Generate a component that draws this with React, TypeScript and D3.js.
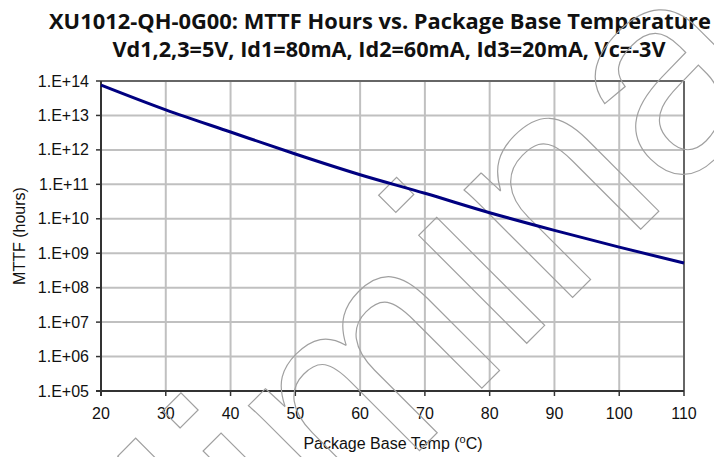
import * as d3 from 'd3';

// temperatures (°C) and MTTF (hours)
const temps = [20, 30, 40, 50, 60, 70, 80, 90, 100, 110];
const mttf = [7.6e13, 1.45e13, 3.3e12, 7.6e11, 1.9e11, 5.5e10, 1.5e10, 4.6e9, 1.5e9, 5.2e8];
const xTicks = [20, 30, 40, 50, 60, 70, 80, 90, 100, 110];
const yTicks = [1e5, 1e6, 1e7, 1e8, 1e9, 1e10, 1e11, 1e12, 1e13, 1e14];
const titleLines = [
  'XU1012-QH-0G00: MTTF Hours vs. Package Base Temperature',
  'Vd1,2,3=5V, Id1=80mA, Id2=60mA, Id3=20mA, Vc=-3V',
];
const watermark = 'Preliminary';

const W = 714, H = 457;
const m = { left: 101, right: 684, top: 81, bottom: 391 };
const fmtExp = (v: number) => {
  const e = Math.round(Math.log10(v));
  return `1.E+${String(e).padStart(2, '0')}`;
};

export default function App() {
  const x = d3.scaleLinear().domain([20, 110]).range([m.left, m.right]);
  const y = d3.scaleLog().domain([1e5, 1e14]).range([m.bottom, m.top]);
  const line = d3.line<number>()
    .x((_, i) => x(temps[i]))
    .y((d) => y(d))
    .curve(d3.curveMonotoneX);
  const font = 'Liberation Sans, Arial, sans-serif';

  return (
    <svg width={W} height={H} style={{ position: 'absolute', left: 0, top: 0, background: '#fff' }} fontFamily={font}>
      <rect width={W} height={H} fill="#fff" />
      {titleLines.map((t, i) => (
        <text key={t} x={i === 0 ? 380 : 389} y={i === 0 ? 29 : 57} textAnchor="middle" fontFamily="Open Sans, sans-serif"
          fontWeight="bold" fontSize={21} fill="#111" textLength={i === 0 ? 662 : 553} lengthAdjust="spacingAndGlyphs">{t}</text>
      ))}

      {/* grid */}
      {xTicks.slice(1, -1).map((t) => (
        <line key={'gx' + t} x1={x(t)} x2={x(t)} y1={m.top} y2={m.bottom} stroke="#c0c0c0" strokeWidth={2} />
      ))}
      {yTicks.slice(1, -1).map((t) => (
        <line key={'gy' + t} x1={m.left} x2={m.right} y1={y(t)} y2={y(t)} stroke="#c0c0c0" strokeWidth={2} />
      ))}
      {/* frame */}
      <line x1={m.left} x2={m.right} y1={m.top} y2={m.top} stroke="#666" strokeWidth={2} />
      <line x1={m.right} x2={m.right} y1={m.top} y2={m.bottom} stroke="#666" strokeWidth={2} />
      <line x1={m.left} x2={m.left} y1={m.top} y2={m.bottom + 5} stroke="#333" strokeWidth={2} />
      <line x1={m.left - 5} x2={m.right} y1={m.bottom} y2={m.bottom} stroke="#333" strokeWidth={2} />

      {yTicks.map((t) => (
        <g key={'ty' + t}>
          <line x1={m.left - 5} x2={m.left} y1={y(t)} y2={y(t)} stroke="#333" strokeWidth={1.5} />
          <text x={89} y={y(t)} dy="0.35em" textAnchor="end" fontSize={16} fill="#111">{fmtExp(t)}</text>
        </g>
      ))}
      {xTicks.map((t) => (
        <g key={'tx' + t}>
          <line x1={x(t)} x2={x(t)} y1={m.bottom} y2={m.bottom + 5} stroke="#333" strokeWidth={1.5} />
          <text x={x(t)} y={419} textAnchor="middle" fontSize={16} fill="#111">{t}</text>
        </g>
      ))}

      <text x={393} y={449} textAnchor="middle" fontSize={16} fill="#111">
        Package Base Temp (<tspan dy={-6} fontSize={11}>o</tspan><tspan dy={6}>C)</tspan>
      </text>
      <text transform={`translate(25,${(m.top + m.bottom) / 2}) rotate(-90)`} textAnchor="middle" fontSize={16} fill="#111">MTTF (hours)</text>

      {/* watermark */}
      <text transform="translate(-66,936) rotate(-45)" fontSize={289} fill="none" stroke="#a0a0a0" strokeWidth={1.2}
        fontFamily={font}>{watermark}</text>

      <path d={line(mttf) ?? ''} fill="none" stroke="#000080" strokeWidth={3} />
    </svg>
  );
}
